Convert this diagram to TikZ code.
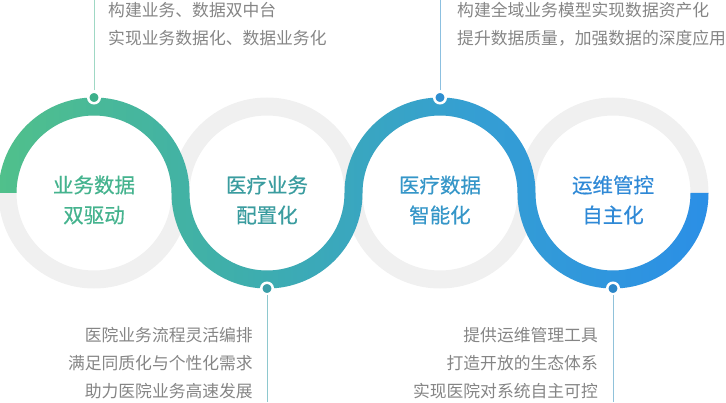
\documentclass[tikz,border=0pt]{standalone}
\usepackage{fontspec}
\setmainfont{Noto Sans CJK SC}
\newfontfamily\titlefont[FakeBold=0.5]{Noto Sans CJK SC}
\usetikzlibrary{positioning}
\usepackage{xcolor}
\definecolor{ringgreen}{HTML}{50C08B}
\definecolor{ringteal}{HTML}{3EAEAC}
\definecolor{ringsky}{HTML}{359FD2}
\definecolor{ringblue}{HTML}{2B8FE6}
\definecolor{ringgray}{HTML}{F0F0F0}
\definecolor{notegray}{HTML}{858585}
\definecolor{labone}{HTML}{45B38E}
\definecolor{labtwo}{HTML}{3A9C9F}
\definecolor{labthree}{HTML}{3596C8}
\definecolor{labfour}{HTML}{2F89D6}
\definecolor{dotone}{HTML}{3DB08A}
\definecolor{dottwo}{HTML}{3A9EA8}
\definecolor{dotthree}{HTML}{2E8ED0}
\definecolor{dotfour}{HTML}{2B86C8}
\definecolor{leadone}{HTML}{9FD8C4}
\definecolor{leadtwo}{HTML}{8EC8CE}
\definecolor{leadthree}{HTML}{8CC0E0}
\definecolor{leadfour}{HTML}{90C2DA}
\pgfdeclarehorizontalshading{ringflow}{100bp}{color(0bp)=(ringgreen); color(25bp)=(ringgreen); color(42bp)=(ringteal); color(58bp)=(ringsky); color(75bp)=(ringblue); color(100bp)=(ringblue)}
\def\ro{95.5pt}
\def\ri{77.5pt}

\begin{document}
\begin{tikzpicture}[
  x=1pt, y=1pt,
  title/.style={align=center, font=\titlefont\fontsize{20.5}{30}\selectfont, inner sep=0pt},
  note/.style={font=\fontsize{16.8}{28}\selectfont, text=notegray, inner sep=0pt},
  dot/.style={circle, draw=white, line width=2.5pt, minimum size=11.5pt, inner sep=0pt},
  leader/.style={line width=0.8pt}
]
\useasboundingbox (0,0) rectangle (726,402);
\coordinate (c1) at (94,209);
\coordinate (c2) at (267,209);
\coordinate (c3) at (440,209);
\coordinate (c4) at (613,209);
% grey rings
\foreach \i in {1,...,4}
  \draw[ringgray, line width=18pt] (c\i) circle[radius=86.5pt];
% coloured band
\shade[shading=ringflow] ([xshift=-\ro]c1)
  arc[start angle=180, end angle=0, radius=\ro]
  arc[start angle=180, end angle=360, radius=\ri]
  arc[start angle=180, end angle=0, radius=\ro]
  arc[start angle=180, end angle=360, radius=\ri]
  -- ++(18pt,0)
  arc[start angle=0, end angle=-180, radius=\ro]
  arc[start angle=0, end angle=180, radius=\ri]
  arc[start angle=0, end angle=-180, radius=\ro]
  arc[start angle=0, end angle=180, radius=\ri]
  -- cycle;
% labels
\node[title, text=labone] (lab1) at ([yshift=-7pt]c1) {业务数据\\双驱动};
\node[title, text=labtwo] (lab2) at ([yshift=-7pt]c2) {医疗业务\\配置化};
\node[title, text=labthree] (lab3) at ([yshift=-7pt]c3) {医疗数据\\智能化};
\node[title, text=labfour] (lab4) at ([yshift=-7pt]c4) {运维管控\\自主化};
% dots and leaders
\node[dot, fill=dotone] (d1) at ([yshift=\ro]c1) {};
\node[dot, fill=dottwo] (d2) at ([yshift=-\ro]c2) {};
\node[dot, fill=dotthree] (d3) at ([yshift=\ro]c3) {};
\node[dot, fill=dotfour] (d4) at ([yshift=-\ro]c4) {};
\coordinate (t1) at (94,402);
\coordinate (t2) at (267,0);
\coordinate (t3) at (440,402);
\coordinate (t4) at (613,0);
\draw[leader, leadone] (d1) -- (t1);
\draw[leader, leadtwo] (d2) -- (t2);
\draw[leader, leadthree] (d3) -- (t3);
\draw[leader, leadfour] (d4) -- (t4);
% notes
\coordinate (m1) at (94,378);
\coordinate (m2) at (267,39);
\coordinate (m3) at (440,378);
\coordinate (m4) at (613,39);
\node[note, align=left, right=14pt of m1] (note1) {构建业务、数据双中台\\实现业务数据化、数据业务化};
\node[note, align=right, left=14pt of m2] (note2) {医院业务流程灵活编排\\满足同质化与个性化需求\\助力医院业务高速发展};
\node[note, align=left, right=17pt of m3] (note3) {构建全域业务模型实现数据资产化\\提升数据质量，加强数据的深度应用};
\node[note, align=right, left=15pt of m4] (note4) {提供运维管理工具\\打造开放的生态体系\\实现医院对系统自主可控};
\end{tikzpicture}
\end{document}
